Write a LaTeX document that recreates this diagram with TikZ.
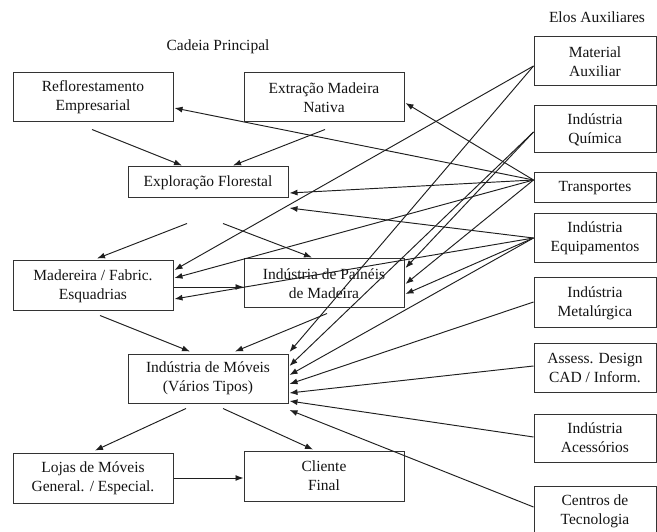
\documentclass[tikz,border=0pt]{standalone}
\usepackage{fontspec}
\setmainfont{Liberation Serif}
\usetikzlibrary{arrows.meta,calc}
\begin{document}
\begin{tikzpicture}[x=1pt,y=-1pt,
  txt/.style={font=\fontsize{15.5}{19}\selectfont,text=black!92},
  box/.style={txt,draw=black!80,line width=1pt,minimum width=160pt,align=center,inner sep=0pt},
  rbox/.style={box,minimum width=122pt},
  arr/.style={-{Latex[length=8pt,width=6pt]},line width=0.95pt,draw=black!88}]
\useasboundingbox (0,0) rectangle (657,532);
\clip (0,0) rectangle (657,532);
% labels
\node[txt] (cp) at (218,47) {Cadeia Principal};
\node[txt] (ea) at (597,17) {Elos Auxiliares};
% main chain
\node[box,minimum height=49pt] (refl) at (93,97.5) {Reflorestamento\\Empresarial};
\node[box,minimum height=49pt] (extr) at (324,97.5) {Extração Madeira\\Nativa};
\node[box,minimum height=31pt] (expl) at (208,182.5) {Exploração Florestal};
\node[box,minimum height=50pt] (made) at (93,286) {Madereira / Fabric.\\Esquadrias};
\node[box,minimum height=49pt] (pain) at (324,283.5) {Indústria de Painéis\\de Madeira};
\node[box,minimum height=49pt] (move) at (208,378.5) {Indústria de Móveis\\(Vários Tipos)};
\node[box,minimum height=50pt] (loja) at (93,478) {Lojas de Móveis\\General. / Especial.};
\node[box,minimum height=50pt] (cli) at (324,476) {Cliente\\Final};
% auxiliary
\node[rbox,minimum height=49pt] (ma) at (595,61.5) {Material\\Auxiliar};
\node[rbox,minimum height=47pt] (iq) at (595,129.5) {Indústria\\Química};
\node[rbox,minimum height=30pt] (tr) at (595,188) {Transportes};
\node[rbox,minimum height=49pt] (ie) at (595,238.5) {Indústria\\Equipamentos};
\node[rbox,minimum height=50pt] (im) at (595,303) {Indústria\\Metalúrgica};
\node[rbox,minimum height=49pt] (ad) at (595,367.5) {Assess. Design\\CAD / Inform.};
\node[rbox,minimum height=48pt] (ia) at (595,438) {Indústria\\Acessórios};
\node[rbox,minimum height=50pt] (ct) at (595,511) {Centros de\\Tecnologia};
% chain arrows
\draw[arr] ($(refl.south)+(-1,7)$) -- ($(expl.north)+(-26,-1)$);
\draw[arr] ($(extr.south)+(1,7)$) -- ($(expl.north)+(25,-1)$);
\draw[arr] ($(expl.south)+(-21,25)$) -- ($(made.north)+(4,-2)$);
\draw[arr] ($(expl.south)+(15,25)$) -- ($(pain.north)+(-12,-1)$);
\draw[arr] ($(made.east)+(0,1)$) -- ($(made.east -| pain.west)+(0,1)$);
\draw[arr] ($(made.south)+(7,4)$) -- ($(move.north)+(-18,-2)$);
\draw[arr] ($(pain.south)+(3,5)$) -- ($(move.north)+(27,-2)$);
\draw[arr] ($(move.south)+(-22,5)$) -- ($(loja.north)+(2,-2)$);
\draw[arr] ($(move.south)+(15,5)$) -- ($(cli.north)+(-11,-1)$);
\draw[arr] (loja.east) -- (loja.east -| cli.west);
% Material Auxiliar
\draw[arr] ($(ma.west)+(0,4.5)$) -- ($(made.east)+(1,-16)$);
\draw[arr] ($(ma.west)+(0,4.5)$) -- ($(move.east)+(1,-26.5)$);
% Industria Quimica
\draw[arr] ($(iq.west)+(0,2.5)$) -- ($(pain.east)+(1,-15.5)$);
\draw[arr] ($(iq.west)+(0,2.5)$) -- ($(move.east)+(1,-12.5)$);
% Transportes
\draw[arr] ($(tr.west)+(0,-8)$) -- ($(refl.east)+(1,10.5)$);
\draw[arr] ($(tr.west)+(0,-8)$) -- ($(extr.east)+(1,5.5)$);
\draw[arr] ($(tr.west)+(0,-8)$) -- ($(expl.east)+(1,10.5)$);
\draw[arr] ($(tr.west)+(0,-8)$) -- ($(made.east)+(1,-8)$);
\draw[arr] ($(tr.west)+(0,-8)$) -- ($(pain.east)+(1,0.5)$);
% Industria Equipamentos
\draw[arr] ($(ie.west)+(0,-0.5)$) -- ($(expl.east)+(1,25.5)$);
\draw[arr] ($(ie.west)+(0,-0.5)$) -- ($(made.east)+(1,13)$);
\draw[arr] ($(ie.west)+(0,-0.5)$) -- ($(pain.east)+(1,10.5)$);
\draw[arr] ($(ie.west)+(0,-0.5)$) -- ($(move.east)+(1,-3.5)$);
% others to Moveis
\draw[arr] ($(im.west)+(0,-1)$) -- ($(move.east)+(1,5.5)$);
\draw[arr] ($(ad.west)+(0,-1.5)$) -- ($(move.east)+(1,14.5)$);
\draw[arr] ($(ia.west)+(0,-1)$) -- ($(move.east)+(1,22.5)$);
\draw[arr] ($(ct.west)+(0,-4)$) -- ($(move.east)+(1,31.5)$);
\end{tikzpicture}
\end{document}
